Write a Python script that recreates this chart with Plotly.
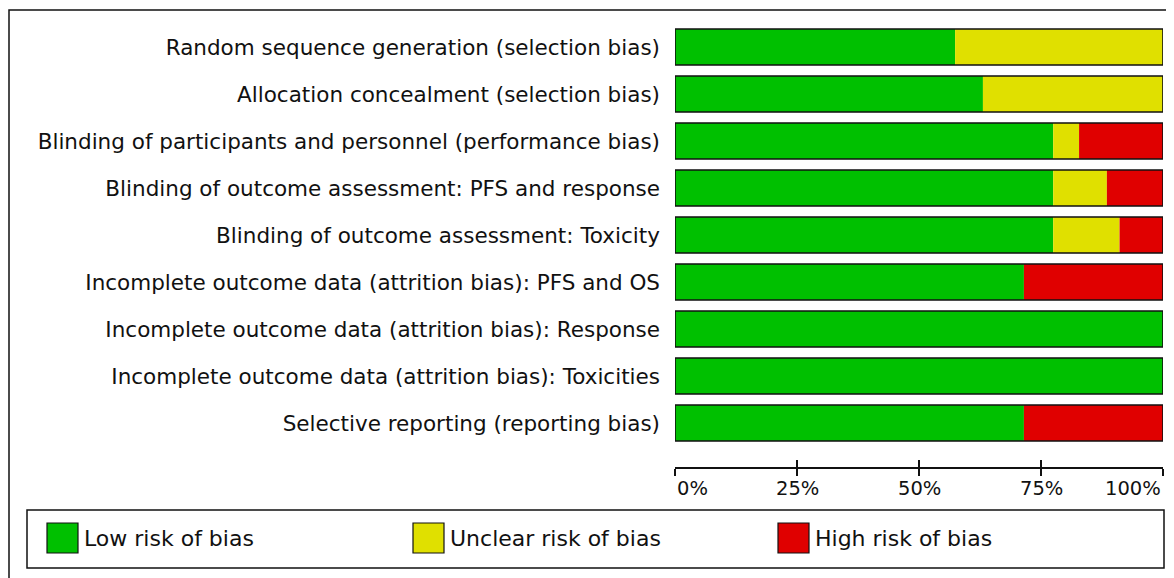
import plotly.graph_objects as go

categories = [
    "Random sequence generation (selection bias)",
    "Allocation concealment (selection bias)",
    "Blinding of participants and personnel (performance bias)",
    "Blinding of outcome assessment: PFS and response",
    "Blinding of outcome assessment: Toxicity",
    "Incomplete outcome data (attrition bias): PFS and OS",
    "Incomplete outcome data (attrition bias): Response",
    "Incomplete outcome data (attrition bias): Toxicities",
    "Selective reporting (reporting bias)",
]
low_risk = [57.4, 63.1, 77.5, 77.5, 77.5, 71.5, 100, 100, 71.5]
unclear_risk = [42.6, 36.9, 5.3, 11.0, 13.6, 0, 0, 0, 0]
high_risk = [0, 0, 17.2, 11.5, 8.9, 28.5, 0, 0, 28.5]
series_names = ["Low risk of bias", "Unclear risk of bias", "High risk of bias"]
series_colors = ["#00C000", "#E0E000", "#E00000"]
tick_values = [0, 25, 50, 75, 100]
tick_labels = ["0%", "25%", "50%", "75%", "100%"]

W, H = 1174, 578
OFF = 8  # page body margin
FONT = "DejaVu Sans"


def px(x):
    return (x - OFF) / W


def py(y):
    return 1 - (y - OFF) / H


series = [low_risk, unclear_risk, high_risk]
fig = go.Figure()
base = [0.0] * len(categories)
for name, vals, col in zip(series_names, series, series_colors):
    fig.add_trace(go.Bar(
        y=categories, x=vals, base=base, orientation="h", name=name,
        marker=dict(color=col, line=dict(width=0)), width=0.766,
        showlegend=False,
    ))
    base = [b + v for b, v in zip(base, vals)]

# outline of each full bar
fig.add_trace(go.Bar(
    y=categories, x=base, base=[0] * len(categories), orientation="h",
    marker=dict(color="rgba(0,0,0,0)", line=dict(color="#111111", width=1.6)),
    width=0.766, showlegend=False, hoverinfo="skip",
))

plot_top, plot_bottom = 23.5, 467
step = 47.0
n_units = (plot_bottom - plot_top) / step

fig.update_layout(
    width=W, height=H,
    margin=dict(l=0, r=0, t=0, b=0),
    paper_bgcolor="white", plot_bgcolor="white",
    barmode="overlay",
    font=dict(family=FONT, size=21, color="#111111"),
    xaxis=dict(
        domain=[px(675), px(1163)], range=[0, 100], showgrid=False,
        zeroline=False, showline=True, linecolor="#111111", linewidth=1.5,
        ticks="outside", ticklen=7, tickwidth=1.5, tickcolor="#111111",
        tickvals=tick_values, showticklabels=False, fixedrange=True,
    ),
    xaxis2=dict(
        overlaying="x", anchor="y", side="bottom", range=[0, 100],
        showgrid=False, zeroline=False, showline=False,
        ticks="inside", ticklen=7, tickwidth=1.5, tickcolor="#111111",
        tickvals=tick_values, showticklabels=False,
    ),
    yaxis=dict(
        domain=[py(plot_bottom), py(plot_top)],
        type="category", categoryorder="array", categoryarray=categories,
        range=[-0.5 + n_units, -0.5], showgrid=False, zeroline=False,
        showline=False, ticks="", ticklabelstandoff=14,
        tickfont=dict(family=FONT, size=21.5, color="#111111"),
    ),
)

# dummy trace to activate xaxis2
fig.add_trace(go.Scatter(x=[0], y=[categories[0]], xaxis="x2", mode="markers",
                         marker=dict(opacity=0), showlegend=False, hoverinfo="skip"))

# tick labels
anchors = ["left", "center", "center", "center", "right"]
for v, t, a in zip(tick_values, tick_labels, anchors):
    fig.add_annotation(x=v, xref="x", y=py(plot_bottom), yref="paper",
                       text=t, showarrow=False, xanchor=a, yanchor="top",
                       yshift=-8, font=dict(family=FONT, size=19.5, color="#111111"))

shapes = []
# outer frame
shapes.append(dict(type="rect", xref="paper", yref="paper",
                   x0=px(9), x1=px(1200), y0=py(10), y1=py(600),
                   line=dict(color="#111111", width=1.5), fillcolor="rgba(0,0,0,0)"))
# legend box
shapes.append(dict(type="rect", xref="paper", yref="paper",
                   x0=px(27), x1=px(1164), y0=py(510), y1=py(568),
                   line=dict(color="#111111", width=1.5), fillcolor="white"))
sw_x = [47, 413, 778]
for x0, name, col in zip(sw_x, series_names, series_colors):
    shapes.append(dict(type="rect", xref="paper", yref="paper",
                       x0=px(x0), x1=px(x0 + 31), y0=py(523), y1=py(553),
                       line=dict(color="#111111", width=1.2), fillcolor=col))
    fig.add_annotation(x=px(x0 + 35), y=py(538), xref="paper", yref="paper",
                       text=name, showarrow=False, xanchor="left", yanchor="middle",
                       font=dict(family=FONT, size=22, color="#111111"))
fig.update_layout(shapes=shapes)

fig.write_html("out.html")
